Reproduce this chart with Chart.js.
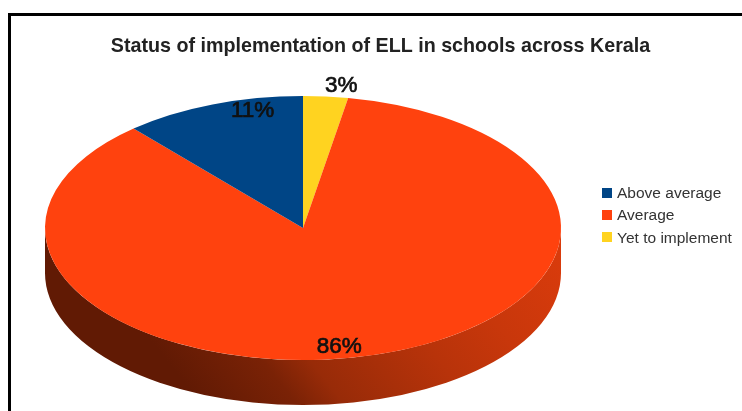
<!DOCTYPE html>
<html>
<head>
<meta charset="utf-8">
<title>Status of implementation of ELL</title>
<script src="https://cdn.jsdelivr.net/npm/chart.js@4/dist/chart.umd.min.js"></script>
<style>
  html, body { margin: 0; padding: 0; background: #fff; overflow: hidden; }
  #page { position: relative; width: 742px; height: 411px; filter: blur(0.6px); overflow: hidden; }
  #frame { position: absolute; left: 8px; top: 13px; right: -10px; bottom: -10px; border-left: 3px solid #000; border-top: 3px solid #000; }
  canvas { position: absolute; left: 0; top: 0; }
  #legend { position: absolute; left: 602px; top: 182px; font: 15.5px "Liberation Sans", sans-serif; color: #333; }
  #legend div { height: 22.4px; line-height: 22.4px; white-space: nowrap; }
  #legend i { display: inline-block; width: 10px; height: 10px; margin-right: 5px; vertical-align: 0.5px; }
</style>
</head>
<body>
<div id="page">
  <div id="frame"></div>
  <canvas id="grafico" width="742" height="411"></canvas>
  <div id="legend"></div>
</div>
<script>
const titulo = 'Status of implementation of ELL in schools across Kerala';
const categorias = ['Above average', 'Average', 'Yet to implement'];
// slice sizes, the labels show them rounded
const valores = [11.4, 85.8, 2.8];
const colores = ['#004586', '#ff420e', '#ffd320'];

// the pie runs counter-clockwise from 12 o'clock in the original, chart.js only goes clockwise
const orden = [2, 1, 0];

// ellipse of the top face and height of the wall
const elipse = { cx: 303, cy: 228, rx: 258, ry: 132, alto: 45 };
// label offset from the rim point at the middle of each slice
const desfases = { 'Above average': [40, 6], 'Average': [-32.5, -8.5], 'Yet to implement': [15.5, -11] };

const pastel3d = {
    id: 'pastel3d',
    beforeDatasetsDraw(chart) {
        const ctx = chart.ctx;
        const arco = chart.getDatasetMeta(0).data[0];
        const e = elipse;

        // wall, the lower half is all orange. the shading runs on a diagonal
        const grad = ctx.createLinearGradient(190, 390, 483, 157);
        grad.addColorStop(0, '#611a04');
        grad.addColorStop(0.2, '#7a2206');
        grad.addColorStop(0.3, '#982b08');
        grad.addColorStop(0.57, '#b8330a');
        grad.addColorStop(0.75, '#c8370b');
        grad.addColorStop(1, '#d93b0c');
        ctx.save();
        ctx.fillStyle = grad;
        ctx.beginPath();
        ctx.ellipse(e.cx, e.cy, e.rx, e.ry, 0, 0, Math.PI);
        ctx.ellipse(e.cx, e.cy + e.alto, e.rx, e.ry, 0, Math.PI, 0, true);
        ctx.closePath();
        ctx.fill();
        ctx.restore();

        // squash the round pie onto the ellipse
        ctx.save();
        ctx.translate(e.cx, e.cy);
        ctx.scale(e.rx / arco.outerRadius, e.ry / arco.outerRadius);
        ctx.translate(-arco.x, -arco.y);
    },
    afterDatasetsDraw(chart) {
        const ctx = chart.ctx;
        ctx.restore();

        const e = elipse;
        ctx.save();
        ctx.font = '22.5px "Liberation Sans", sans-serif';
        ctx.fillStyle = '#111';
        ctx.strokeStyle = '#111';
        ctx.lineWidth = 0.7;
        ctx.textAlign = 'center';
        ctx.textBaseline = 'middle';
        chart.getDatasetMeta(0).data.forEach((arco, i) => {
            const medio = (arco.startAngle + arco.endAngle) / 2;
            const d = desfases[chart.data.labels[i]];
            const x = e.cx + Math.cos(medio) * e.rx + d[0];
            const y = e.cy + Math.sin(medio) * e.ry + d[1];
            const texto = Math.round(chart.data.datasets[0].data[i]) + '%';
            ctx.fillText(texto, x, y);
            ctx.strokeText(texto, x, y);
        });
        ctx.restore();
    }
};

document.addEventListener('DOMContentLoaded', function() {
    const ctx = document.getElementById('grafico').getContext('2d');
    new Chart(ctx, {
        type: 'pie',
        data: {
            labels: orden.map(i => categorias[i]),
            datasets: [{
                data: orden.map(i => valores[i]),
                backgroundColor: orden.map(i => colores[i]),
                borderWidth: 0,
                clip: false
            }]
        },
        options: {
            responsive: false,
            animation: false,
            layout: { padding: { left: 19 } },
            plugins: {
                legend: { display: false },
                tooltip: { enabled: false },
                title: {
                    display: true,
                    text: titulo,
                    color: '#222',
                    font: { family: '"Liberation Sans", sans-serif', size: 19.7, weight: 'bold' },
                    padding: { top: 35, bottom: 10 }
                }
            }
        },
        plugins: [pastel3d]
    });

    // legend
    const leyenda = document.getElementById('legend');
    categorias.forEach((nombre, i) => {
        const fila = document.createElement('div');
        fila.innerHTML = `<i style="background:${colores[i]}"></i>${nombre}`;
        leyenda.appendChild(fila);
    });
});
</script>
</body>
</html>
